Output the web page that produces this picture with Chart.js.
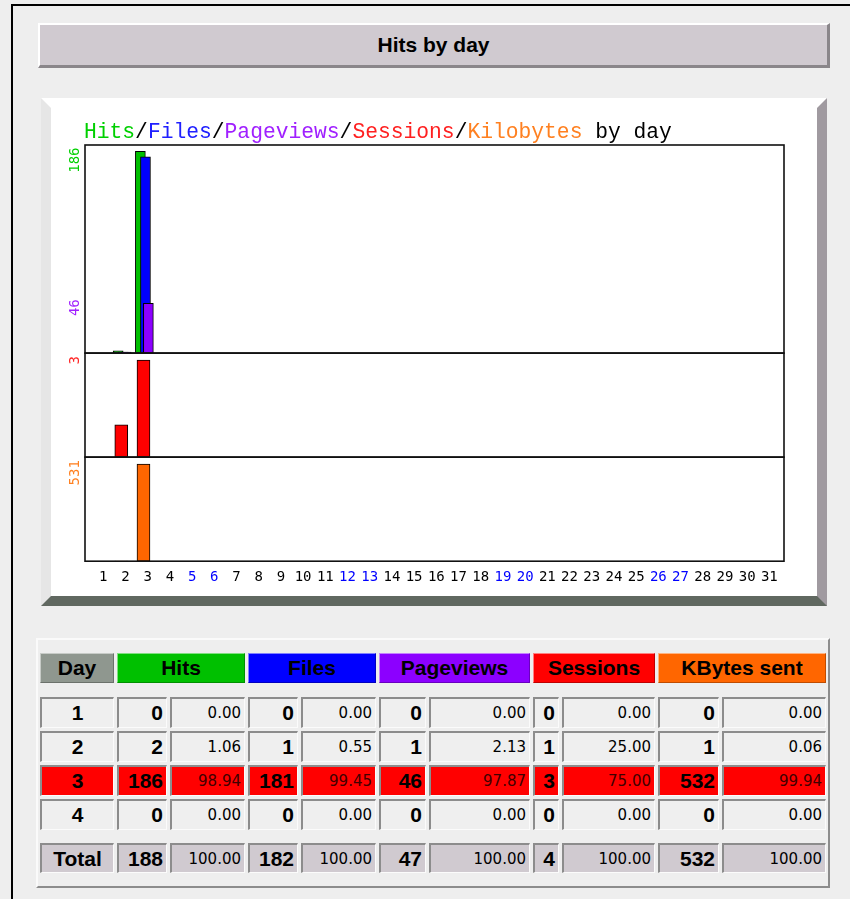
<!DOCTYPE html>
<html>
<head>
<meta charset="utf-8">
<script src="https://cdn.jsdelivr.net/npm/chart.js@4.4.1/dist/chart.umd.min.js"></script>
<style>
body { margin:0; background:#eeeeee; width:850px; height:899px; overflow:hidden; position:relative; font-family:"Liberation Sans", Arial, sans-serif; }
#frame { position:absolute; left:11px; top:4px; width:900px; height:900px; border-left:2px solid #000; border-top:2px solid #000; }
#hdr { position:absolute; left:38px; top:23px; width:792px; height:45px; box-sizing:border-box; background:#d0cad0;
       border-top:2px solid #fff; border-left:2px solid #fff; border-right:3px solid #8a868a; border-bottom:3px solid #8a868a;
       text-align:center; font-weight:bold; font-size:21px; line-height:39px; }
#panel { position:absolute; left:41px; top:98px; width:766px; height:488px; background:#fff;
         border-top:10px solid #fff; border-left:10px solid #e6e6e6; border-right:10px solid #a09aa0; border-bottom:10px solid #606860; }
#tbox { position:absolute; left:36px; top:638px; width:794px; height:250px; box-sizing:border-box;
        border-top:2px solid #fafafa; border-left:2px solid #fafafa; border-right:2px solid #8c8c8c; border-bottom:2px solid #8c8c8c; }
#grid { position:absolute; left:2px; top:13px; display:grid;
        grid-template-columns:74px 50px 75px 50px 75px 47px 101px 26px 93px 61px 104px;
        grid-template-rows:30px 8px 31px 31px 31px 31px 7px 30px; column-gap:3px; row-gap:3px; }
.c { box-sizing:border-box; display:flex; align-items:center; justify-content:flex-end; padding-right:3px;
     background:#efefef; border-top:2px solid #8c8c8c; border-left:2px solid #8c8c8c; border-right:1px solid #fbfbfb; border-bottom:1px solid #fbfbfb; }
.n { font-weight:bold; font-size:21px; }
.p { font-family:"DejaVu Sans", sans-serif; font-size:15px; }
.d { justify-content:center; padding-right:0; }
.h { box-sizing:border-box; display:flex; align-items:center; justify-content:center; font-weight:bold; font-size:21px;
     border-top:1px solid rgba(255,255,255,0.5); border-left:1px solid rgba(255,255,255,0.5); border-right:1px solid rgba(0,0,0,0.25); border-bottom:1px solid rgba(0,0,0,0.25); }
.peak { background:#ff0000; }
.peak.p { color:#400000; }
.tot { background:#d0cad0; }
</style>
</head>
<body>
<div id="frame"></div>
<div id="hdr">Hits by day</div>
<div id="panel"><canvas id="chart" width="766" height="488"></canvas></div>
<div id="tbox"><div id="grid"></div></div>
<script>
// days of the month on the x axis
var days = [1, 2, 3, 4, 5, 6, 7, 8, 9, 10, 11, 12, 13, 14, 15, 16, 17, 18, 19, 20, 21, 22, 23, 24, 25, 26, 27, 28, 29, 30, 31];
var weekendDays = [5, 6, 12, 13, 19, 20, 26, 27];

// graph series (days 1-4)
var hits = [0, 2, 186, 0];
var files = [0, 1, 181, 0];
var pageviews = [0, 1, 46, 0];
var sessions = [0, 1, 3, 0];
var kbytes = [0, 0.3, 531, 0];

// table values
var tableDays = [1, 2, 3, 4];
var hitsPct = ["0.00", "1.06", "98.94", "0.00"];
var filesPct = ["0.00", "0.55", "99.45", "0.00"];
var pagesPct = ["0.00", "2.13", "97.87", "0.00"];
var sessPct = ["0.00", "25.00", "75.00", "0.00"];
var kbSent = [0, 1, 532, 0];
var kbPct = ["0.00", "0.06", "99.94", "0.00"];
var totals = [188, 182, 47, 4, 532];
var peakDay = 3;

var cHits = "#00c000", cFiles = "#0000ff", cPages = "#8c00ff", cSess = "#ff0000", cKB = "#ff6600";

function pts(arr) {
    return arr.map(function (v, i) { return { x: days[i], y: v }; });
}

var xMin = 0.176, xMax = 31.66;

// titre multicolore
var titlePlugin = {
    id: "titleParts",
    afterDraw: function (chart) {
        var ctx = chart.ctx;
        var parts = [["Hits", "#00d000"], ["/", "#000"], ["Files", "#2020ff"], ["/", "#000"], ["Pageviews", "#a020ff"], ["/", "#000"],
                     ["Sessions", "#ff2020"], ["/", "#000"], ["Kilobytes", "#ff8020"], [" by day", "#000"]];
        ctx.save();
        ctx.font = '21.3px "Liberation Mono", monospace';
        ctx.textBaseline = "alphabetic";
        var x = chart.chartArea.left - 1;
        parts.forEach(function (p) {
            ctx.fillStyle = p[1];
            ctx.fillText(p[0], x, 30);
            x += ctx.measureText(p[0]).width;
        });
        ctx.restore();
    }
};

// cadres des trois panneaux + etiquettes verticales
var framePlugin = {
    id: "frames",
    afterDatasetsDraw: function (chart) {
        var ctx = chart.ctx, a = chart.chartArea;
        ctx.save();
        ctx.strokeStyle = "#111";
        ctx.lineWidth = 1.6;
        ["yHits", "ySess", "yKB"].forEach(function (id) {
            var s = chart.scales[id];
            ctx.strokeRect(a.left, s.top, a.right - a.left, s.bottom - s.top);
        });
        var labels = [
            ["yHits", Math.max.apply(null, hits), "#00d000"],
            ["yHits", Math.max.apply(null, pageviews), "#a020ff"],
            ["ySess", Math.max.apply(null, sessions), "#ff2020"],
            ["yKB", Math.max.apply(null, kbytes), "#ff8020"]
        ];
        ctx.font = '14px "DejaVu Sans Mono", monospace';
        ctx.textAlign = "right";
        ctx.textBaseline = "middle";
        labels.forEach(function (l) {
            var y = chart.scales[l[0]].getPixelForValue(l[1]) - 4;
            ctx.save();
            ctx.translate(a.left - 10, y);
            ctx.rotate(-Math.PI / 2);
            ctx.fillStyle = l[2];
            ctx.fillText(String(Math.floor(l[1])), 0, 0);
            ctx.restore();
        });
        ctx.restore();
    }
};

function hiddenX(shift) {
    return { type: "linear", axis: "x", position: "bottom", display: false, offset: false, min: xMin + shift, max: xMax + shift };
}

function barSet(label, arr, color, xId, yId, thick, order) {
    return {
        label: label, data: pts(arr), xAxisID: xId, yAxisID: yId,
        backgroundColor: color, borderColor: "#000", borderWidth: 1, borderSkipped: false,
        barThickness: thick, grouped: false, order: order
    };
}

new Chart(document.getElementById("chart"), {
    type: "bar",
    data: {
        datasets: [
            barSet("Hits", hits, cHits, "xHits", "yHits", 10, 3),
            barSet("Files", files, cFiles, "xFiles", "yHits", 10, 2),
            barSet("Pageviews", pageviews, cPages, "xPages", "yHits", 10, 1),
            barSet("Sessions", sessions, cSess, "xLow", "ySess", 13, 1),
            barSet("Kilobytes", kbytes, cKB, "xLow", "yKB", 13, 1)
        ]
    },
    options: {
        responsive: false,
        animation: false,
        layout: { padding: { left: 34, right: 33, top: 37, bottom: 2 } },
        plugins: { legend: { display: false }, tooltip: { enabled: false } },
        scales: {
            x: {
                type: "linear", position: "bottom", min: xMin, max: xMax, offset: false,
                grid: { display: false, drawTicks: false, offset: false }, border: { display: false },
                afterBuildTicks: function (s) { s.ticks = days.map(function (d) { return { value: d }; }); },
                ticks: {
                    padding: 8, autoSkip: false, maxRotation: 0, minRotation: 0,
                    font: { family: "DejaVu Sans Mono", size: 14 },
                    color: function (c) { return weekendDays.indexOf(c.tick.value) >= 0 ? "#0000ff" : "#000"; }
                }
            },
            xHits: hiddenX(0.33),
            xFiles: hiddenX(0.10),
            xPages: hiddenX(-0.03),
            xLow: hiddenX(0.19),
            yHits: { type: "linear", axis: "y", position: "left", display: false, stack: "v", stackWeight: 2, weight: 3,
                     min: 0, max: Math.max.apply(null, hits) * 1.032 },
            ySess: { type: "linear", axis: "y", position: "left", display: false, stack: "v", stackWeight: 1, weight: 2,
                     min: 0, max: Math.max.apply(null, sessions) * 1.073 },
            yKB: { type: "linear", axis: "y", position: "left", display: false, stack: "v", stackWeight: 1, weight: 1,
                   min: 0, max: Math.max.apply(null, kbytes) * 1.072 }
        }
    },
    plugins: [titlePlugin, framePlugin]
});

// tableau
var grid = document.getElementById("grid");
function cell(cls, text, col, row, span) {
    var d = document.createElement("div");
    d.className = cls;
    d.textContent = text;
    d.style.gridRow = String(row);
    d.style.gridColumn = span ? col + " / span " + span : String(col);
    grid.appendChild(d);
    return d;
}
var heads = [["Day", "#8f978f", 1, 1], ["Hits", cHits, 2, 2], ["Files", cFiles, 4, 2], ["Pageviews", cPages, 6, 2],
             ["Sessions", cSess, 8, 2], ["KBytes sent", cKB, 10, 2]];
heads.forEach(function (h) {
    cell("h", h[0], h[2], 1, h[3]).style.background = h[1];
});
tableDays.forEach(function (day, i) {
    var row = i + 3;
    var extra = day === peakDay ? " peak" : "";
    cell("c n d" + extra, day, 1, row);
    var cols = [[hits[i], hitsPct[i]], [files[i], filesPct[i]], [pageviews[i], pagesPct[i]], [sessions[i], sessPct[i]], [kbSent[i], kbPct[i]]];
    cols.forEach(function (c, j) {
        cell("c n" + extra, c[0], 2 + j * 2, row);
        cell("c p" + extra, c[1], 3 + j * 2, row);
    });
});
cell("c n d tot", "Total", 1, 8);
totals.forEach(function (t, j) {
    cell("c n tot", t, 2 + j * 2, 8);
    cell("c p tot", "100.00", 3 + j * 2, 8);
});
</script>
</body>
</html>
